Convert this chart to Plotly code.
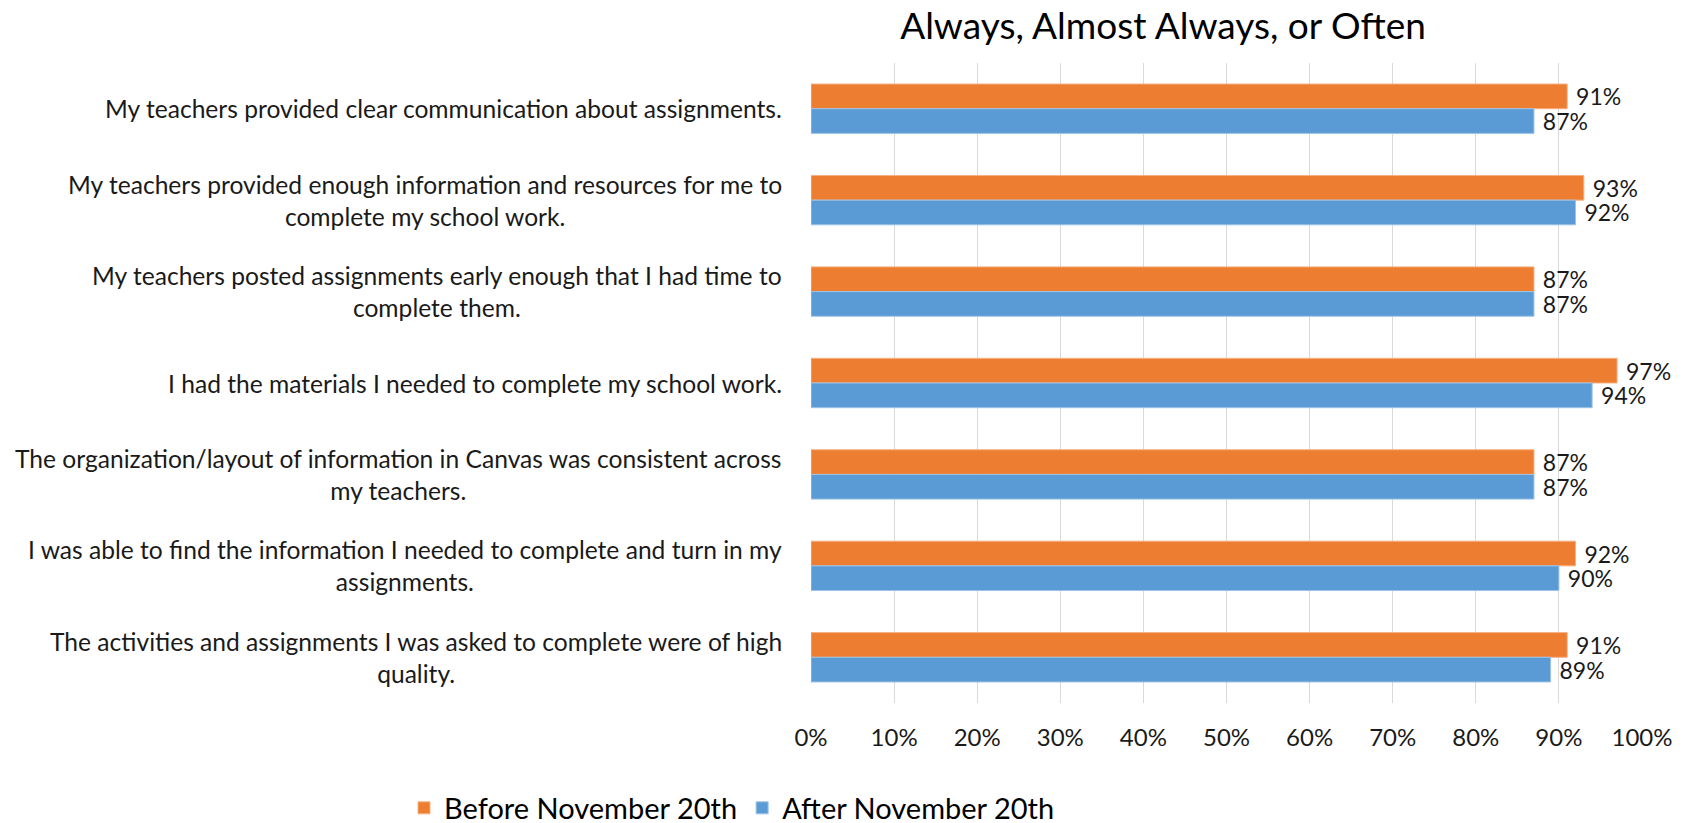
import plotly.graph_objects as go

# ── data ───────────────────────────────────────────────────────────────────────
questions = [
    "My teachers provided clear communication about assignments.",
    "My teachers provided enough information and resources for me to<br>complete my school work.",
    "My teachers posted assignments early enough that I had time to<br>complete them.",
    "I had the materials I needed to complete my school work.",
    "The organization/layout of information in Canvas was consistent across<br>my teachers.",
    "I was able to find the information I needed to complete and turn in my<br>assignments.",
    "The activities and assignments I was asked to complete were of high<br>quality.",
]
before_nov20 = [0.91, 0.93, 0.87, 0.97, 0.87, 0.92, 0.91]
after_nov20 = [0.87, 0.92, 0.87, 0.94, 0.87, 0.90, 0.89]
x_ticks = [0, 0.1, 0.2, 0.3, 0.4, 0.5, 0.6, 0.7, 0.8, 0.9, 1.0]

ORANGE = "#ED7D31"
BLUE = "#5B9BD5"
FONT = "Lato, sans-serif"
TXT = "#1a1a1a"

# page body has an 8px default margin, so everything is laid out 8px up/left
W, H = 1688, 823
OFF = 8

fig = go.Figure()

fig.add_trace(go.Bar(
    y=questions, x=before_nov20,
    name="Before November 20th",
    orientation="h",
    marker=dict(color=ORANGE, line=dict(color="#F4B183", width=1)),
    text=[f" {v:.0%}" for v in before_nov20],
    textposition="outside",
    constraintext="none",
    textfont=dict(size=23, color=TXT),
    cliponaxis=False,
))
fig.add_trace(go.Bar(
    y=questions, x=after_nov20,
    name="After November 20th",
    orientation="h",
    marker=dict(color=BLUE, line=dict(color="#9DC3E6", width=1)),
    text=[f" {v:.0%}" for v in after_nov20],
    textposition="outside",
    constraintext="none",
    textfont=dict(size=23, color=TXT),
    cliponaxis=False,
))

# category labels: right-aligned block, lines centred (as in the original)
for q in questions:
    fig.add_annotation(
        x=0, y=q, xref="x", yref="y",
        text=q, showarrow=False,
        xanchor="right", yanchor="middle", align="center",
        xshift=-27,
        font=dict(size=24.6, color=TXT),
    )

fig.update_layout(
    width=W, height=H,
    barmode="group",
    bargap=0.46,
    bargroupgap=0,
    font=dict(family=FONT, color=TXT),
    plot_bgcolor="white",
    paper_bgcolor="white",
    margin=dict(l=811 - OFF, r=W - (1642 - OFF), t=63 - OFF, b=H - (703 - OFF), autoexpand=False),
    title=dict(
        text="Always, Almost Always, or Often",
        font=dict(size=37, color="#000000"),
        x=(1163 - OFF) / W, xanchor="center",
        y=1 - (26 - OFF) / H, yanchor="middle",
    ),
    xaxis=dict(
        range=[0, 1],
        tickvals=x_ticks,
        tickformat=".0%",
        showgrid=True, gridcolor="#D9D9D9", gridwidth=1,
        zeroline=False,
        showline=False,
        automargin=False,
        tickfont=dict(size=24, color=TXT),
        ticklabelstandoff=18,
    ),
    yaxis=dict(
        autorange="reversed",
        showgrid=False,
        showline=False,
        showticklabels=False,
        automargin=False,
    ),
    legend=dict(
        orientation="h",
        xref="container", x=(732 - OFF) / W, xanchor="center",
        yref="container", y=1 - (808 - OFF) / H, yanchor="middle",
        font=dict(size=29, color="#000000"),
        traceorder="normal",
    ),
)

fig.write_html("out.html")
